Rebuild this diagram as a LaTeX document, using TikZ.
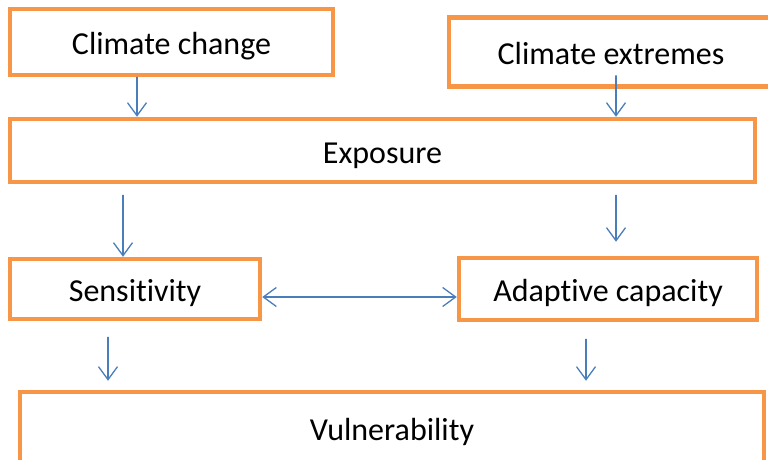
\documentclass[tikz,border=0pt]{standalone}
\usepackage{fontspec}
\setmainfont{Carlito}[Ligatures=NoCommon]
\usepackage{color}
\usetikzlibrary{arrows.meta}

\begin{document}
\begin{tikzpicture}
		[x=1pt,y=-1pt,line cap=round,
		%Styles
		box node/.style={rectangle,draw=boxorange,line width=4.5pt,fill=white,inner sep=0pt,
			font=\fontsize{32}{38}\selectfont,text height=29pt,text depth=4pt},
		link/.style={draw=arrowblue,line width=1.3pt,-{Straight Barb[length=13pt,width=19pt]}},
		both link/.style={draw=arrowblue,line width=1.3pt,{Straight Barb[length=13pt,width=19pt]}-{Straight Barb[length=13pt,width=19pt]}}
		]
		
		%Colors
		\definecolor{boxorange}{HTML}{F79646}	%box borders
		\definecolor{arrowblue}{HTML}{4A7EBB}	%arrows
		
		\useasboundingbox (0,0) rectangle (768,460);
		\clip (0,0) rectangle (768,460);
		
		\node[box node,minimum width=323pt,minimum height=66pt] (1) at (171.5,42) {Climate change};
		\node[box node,minimum width=324pt,minimum height=69pt] (2) at (611,52) {Climate extremes};
		\node[box node,minimum width=745pt,minimum height=63pt] (3) at (382.5,150.5) {Exposure};
		\node[box node,minimum width=250pt,minimum height=60pt] (4) at (135,289) {Sensitivity};
		\node[box node,minimum width=298pt,minimum height=62pt] (5) at (608,289) {Adaptive capacity};
		\node[box node,minimum width=744pt,minimum height=76pt,text depth=8pt] (6) at (392,430) {Vulnerability};
		
		\draw[link] ([xshift=-34.5pt]1.south) -- ([xshift=-245.5pt]3.north);
		\draw[link] ([xshift=5pt,yshift=13pt]2.south) -- ([xshift=233.5pt]3.north);
		\draw[link] ([xshift=-259.5pt,yshift=-11pt]3.south) -- ([xshift=-12pt]4.north);
		\draw[link] ([xshift=233.5pt,yshift=-11pt]3.south) -- ([xshift=8pt,yshift=14pt]5.north);
		\draw[link] ([xshift=-27pt,yshift=-16pt]4.south) -- ([xshift=-284pt,yshift=9pt]6.north);
		\draw[link] ([xshift=-22pt,yshift=-17pt]5.south) -- ([xshift=194pt,yshift=9pt]6.north);
		\draw[both link] ([yshift=-8pt]4.east) -- ([yshift=-8pt]5.west);
	\end{tikzpicture}
\end{document}
